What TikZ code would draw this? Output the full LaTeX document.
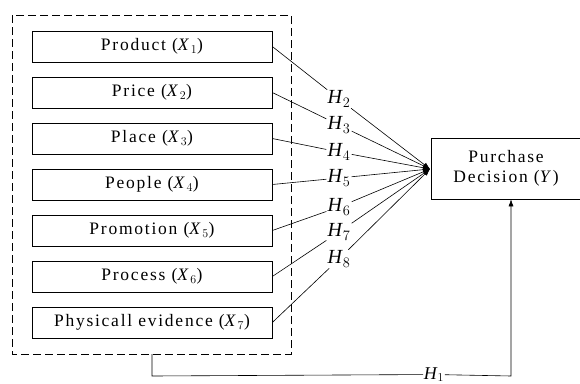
\documentclass[tikz,border=0pt]{standalone}
\usepackage{fontspec}
\setmainfont{Liberation Serif}
\newfontfamily\trk[LetterSpace=10]{Liberation Serif}
\usetikzlibrary{arrows.meta}
\begin{document}
\begin{tikzpicture}[x=1pt,y=-1pt,
  varbox/.style={draw,line width=0.6pt,minimum width=240pt,minimum height=31pt,inner sep=0pt,font=\fontsize{17.5}{19}\trk},
  hlab/.style={inner sep=1pt,font=\fontsize{20}{22}\selectfont},
  link/.style={line width=0.6pt,-{Latex[length=7pt,width=5pt]}},
  dashbox/.style={draw,line width=0.9pt,dash pattern=on 8pt off 4pt}]
\useasboundingbox (0,0) rectangle (580,383);
\draw[dashbox] (12,15) rectangle (291,354);
\node[varbox] (x1) at (152,46.5) {Product (\textit{X}$_1$)};
\node[varbox] (x2) at (152,92.5) {Price (\textit{X}$_2$)};
\node[varbox] (x3) at (152,138.5) {Place (\textit{X}$_3$)};
\node[varbox] (x4) at (152,184.5) {People (\textit{X}$_4$)};
\node[varbox] (x5) at (152,230.5) {Promotion (\textit{X}$_5$)};
\node[varbox] (x6) at (152,276.5) {Process (\textit{X}$_6$)};
\node[varbox] (x7) at (152,322.5) {Physicall evidence (\textit{X}$_7$)};
\node[draw,line width=0.6pt,minimum width=150pt,minimum height=61pt,inner sep=0pt,align=center,font=\fontsize{17.5}{20}\trk] (y) at (506,168.5) {Purchase\\Decision (\textit{Y})};
\coordinate (c) at (430,169);
\node[hlab] (h2) at (339,99) {\textit{H}$_2$};
\node[hlab] (h3) at (339,125) {\textit{H}$_3$};
\node[hlab] (h4) at (339,152) {\textit{H}$_4$};
\node[hlab] (h5) at (339,178) {\textit{H}$_5$};
\node[hlab] (h6) at (339,207) {\textit{H}$_6$};
\node[hlab] (h7) at (339,232) {\textit{H}$_7$};
\node[hlab] (h8) at (339,259) {\textit{H}$_8$};
\foreach \i/\h in {1/2,2/3,3/4,4/5,5/6,6/7,7/8}{
  \draw[line width=0.6pt] (x\i.east) -- (h\h);
  \draw[link] (h\h) -- (c);
}
\coordinate (b0) at (152,354);
\coordinate (b1) at (152,376);
\coordinate (b2) at (511,376);
\node[hlab,fill=white,inner sep=0.5pt,font=\fontsize{18}{20}\selectfont] (h1) at (434,374.5) {\textit{H}$_1$};
\draw[line width=0.6pt] (b0) -- (b1) -- (h1);
\draw[line width=0.6pt,-{Latex[length=7pt,width=5pt]}] (h1) -- (b2) -- (y.south -| b2);
\end{tikzpicture}
\end{document}
